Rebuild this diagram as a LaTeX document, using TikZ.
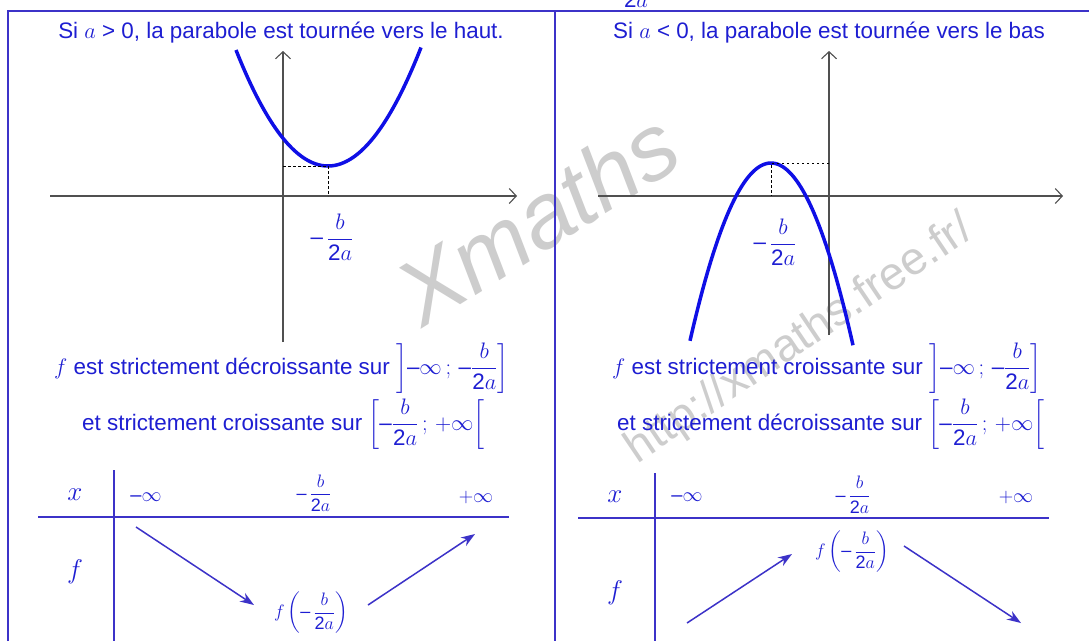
\RequirePackage{fix-cm}
\documentclass[tikz,border=0pt]{standalone}
\usepackage{fontspec}
\setmainfont{Liberation Sans}
\usepackage{amsmath}
\usetikzlibrary{arrows.meta}
\definecolor{linecol}{RGB}{60,50,200}
\definecolor{txt}{RGB}{30,30,210}
\definecolor{crv}{RGB}{15,15,230}
\definecolor{axc}{RGB}{80,80,80}
\definecolor{wm}{RGB}{205,205,205}
\newcommand{\mfrac}{\dfrac{b}{\mbox{2}a}}
\newcommand{\mneg}{\mbox{–}}
\begin{document}
\begin{tikzpicture}[x=1pt,y=-1pt,
  frame/.style={draw=linecol,line width=1.5pt},
  axis/.style={draw=axc,line width=1.1pt,-{Straight Barb[length=7pt,width=15pt,line width=1.1pt]}},
  curve/.style={draw=crv,line width=3.5pt},
  dotl/.style={draw=black,line width=0.9pt,dash pattern=on 2.5pt off 2.5pt},
  title/.style={text=txt,font=\fontsize{22.4}{26}\selectfont,inner sep=0pt},
  body/.style={text=txt,font=\fontsize{22.4}{27}\selectfont,inner sep=0pt},
  tabt/.style={text=txt,font=\fontsize{20}{24}\selectfont,inner sep=0pt},
  tabv/.style={text=txt,font=\fontsize{27}{30}\selectfont,inner sep=0pt},
  tabs/.style={text=txt,font=\fontsize{18}{22}\selectfont,inner sep=0pt},
  tabl/.style={draw=linecol,line width=1.5pt},
  var/.style={draw=linecol,line width=1.5pt,-{Stealth[length=14pt,width=10pt]}},
  wmark/.style={text=wm,inner sep=0pt}]
\useasboundingbox (0,0) rectangle (1089,641);
\fill[white] (0,0) rectangle (1089,641);
% watermarks
\node[wmark,rotate=34,font=\fontsize{46}{46}\selectfont] (url) at (800,340) {http://xmaths.free.fr/};
\node[wmark,rotate=32,font=\fontsize{92}{92}\selectfont\itshape] (xm) at (537,218) {Xmaths};
% frame
\draw[frame] (8,641) -- (8,11) -- (1089,11);
\draw[frame] (555,11) -- (555,641);
\node[title,anchor=base] (frag) at (636,7) {$\mbox{2}a$};
% ---------- left panel
\node[title] (t1) at (281,33) {Si $a$ > 0, la parabole est tournée vers le haut.};
\coordinate (xl0) at (50,196); \coordinate (xl1) at (517,196);
\coordinate (yl0) at (283,342); \coordinate (yl1) at (283,51);
\draw[axis] (xl0) -- (xl1);
\draw[axis] (yl0) -- (yl1);
\draw[curve] plot[domain=236:421,samples=80] (\x,{166-0.0137*(\x-328)^2});
\coordinate (vl) at (328,166);
\draw[dotl] (283,166) -- (vl) -- (328,196);
\node[body] (lab1) at (332,237) {$\mneg\,\mfrac$};
\node[body,anchor=base west] (d1) at (54,374) {$f$ est strictement décroissante sur $\left]\mneg\infty\,;\,\mneg\mfrac\right]$};
\node[body,anchor=base west] (c1) at (82,430) {et strictement croissante sur $\left[\mneg\mfrac\,;\,{+}\infty\right[$};
% table left
\draw[tabl] (114,470) -- (114,641);
\draw[tabl] (38,517) -- (509,517);
\node[tabv] (xL) at (75,495) {$x$};
\node[tabt] (miL) at (146,497) {$\mneg\infty$};
\node[tabs] (frL) at (314,493) {$\mneg\,\mfrac$};
\node[tabt] (plL) at (476,497) {$+\infty$};
\node[tabv] (fL) at (75,572) {$f$};
\node[tabs] (minL) at (311,613) {$f\left(\mneg\,\mfrac\right)$};
\coordinate (aL1) at (136,527); \coordinate (aL2) at (254,605);
\coordinate (aL3) at (368,605); \coordinate (aL4) at (475,534);
\draw[var] (aL1) -- (aL2);
\draw[var] (aL3) -- (aL4);
% ---------- right panel
\node[title] (t2) at (829,33) {Si $a$ < 0, la parabole est tournée vers le bas};
\coordinate (xr0) at (598,196); \coordinate (xr1) at (1063,196);
\coordinate (yr0) at (829,335); \coordinate (yr1) at (829,51);
\draw[axis] (xr0) -- (xr1);
\draw[axis] (yr0) -- (yr1);
\draw[curve] plot[domain=690:853,samples=80] (\x,{163+0.0271*(\x-771)^2});
\coordinate (vr) at (771,163);
\draw[dotl] (829,163) -- (vr) -- (771,196);
\node[body] (lab2) at (775,242) {$\mneg\,\mfrac$};
\node[body,anchor=base west] (c2) at (612,374) {$f$ est strictement croissante sur $\left]\mneg\infty\,;\,\mneg\mfrac\right]$};
\node[body,anchor=base west] (d2) at (617,430) {et strictement décroissante sur $\left[\mneg\mfrac\,;\,{+}\infty\right[$};
% table right
\draw[tabl] (655,473) -- (655,641);
\draw[tabl] (578,518) -- (1049,518);
\node[tabv] (xR) at (615,497) {$x$};
\node[tabt] (miR) at (687,497) {$\mneg\infty$};
\node[tabs] (frR) at (853,495) {$\mneg\,\mfrac$};
\node[tabt] (plR) at (1016,497) {$+\infty$};
\node[tabv] (fR) at (615,593) {$f$};
\node[tabs] (maxR) at (852,552) {$f\left(\mneg\,\mfrac\right)$};
\coordinate (aR1) at (687,623); \coordinate (aR2) at (792,554);
\coordinate (aR3) at (904,546); \coordinate (aR4) at (1021,623);
\draw[var] (aR1) -- (aR2);
\draw[var] (aR3) -- (aR4);
\end{tikzpicture}
\end{document}
